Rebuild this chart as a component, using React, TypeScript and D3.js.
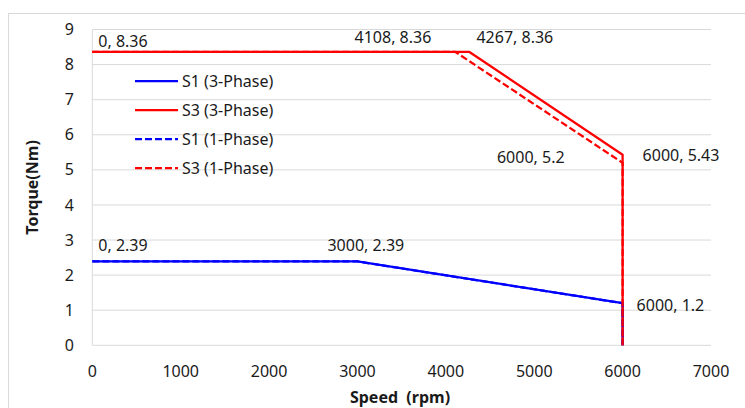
import React from "react";
import * as d3 from "d3";

// Torque–speed envelopes (speed in rpm, torque in Nm)
const s1ThreePhaseSpeed = [0, 3000, 6000, 6000];
const s1ThreePhaseTorque = [2.39, 2.39, 1.2, 0];
const s3ThreePhaseSpeed = [0, 4267, 6000, 6000];
const s3ThreePhaseTorque = [8.36, 8.36, 5.43, 0];
const s1OnePhaseSpeed = [0, 3000, 6000, 6000];
const s1OnePhaseTorque = [2.39, 2.39, 1.2, 0];
const s3OnePhaseSpeed = [0, 4108, 6000, 6000];
const s3OnePhaseTorque = [8.36, 8.36, 5.2, 0];

const seriesNames = ["S1 (3-Phase)", "S3 (3-Phase)", "S1 (1-Phase)", "S3 (1-Phase)"];

const xTicks = [0, 1000, 2000, 3000, 4000, 5000, 6000, 7000];
const yTicks = [0, 1, 2, 3, 4, 5, 6, 7, 8, 9];

// Annotated corner points
const labelSpeed = [0, 4108, 4267, 6000, 6000, 0, 3000, 6000];
const labelTorque = [8.36, 8.36, 8.36, 5.2, 5.43, 2.39, 2.39, 1.2];
const labelText = ["0, 8.36", "4108, 8.36", "4267, 8.36", "6000, 5.2", "6000, 5.43", "0, 2.39", "3000, 2.39", "6000, 1.2"];

// Placement of each annotation relative to its point: [dx, dy, anchor]
const labelPlacement: [number, number, string][] = [
  [6, -5, "start"],
  [-24, -9, "end"],
  [7, -9, "start"],
  [-58, 0, "end"],
  [20, 6, "start"],
  [6, -10, "start"],
  [-30, -10, "start"],
  [14, 8, "start"],
];

const W = 745;
const H = 408;
const FONT = "'Noto Sans', 'Open Sans', sans-serif";

export default function App() {
  const x = d3.scaleLinear().domain([0, 7000]).range([92.3, 711]);
  const y = d3.scaleLinear().domain([0, 9]).range([345.3, 29.5]);

  const series = [
    { name: seriesNames[0], xs: s1ThreePhaseSpeed, ys: s1ThreePhaseTorque, color: "#0000ff", dash: undefined },
    { name: seriesNames[1], xs: s3ThreePhaseSpeed, ys: s3ThreePhaseTorque, color: "#ff0000", dash: undefined },
    { name: seriesNames[2], xs: s1OnePhaseSpeed, ys: s1OnePhaseTorque, color: "#0000ff", dash: "7,3" },
    { name: seriesNames[3], xs: s3OnePhaseSpeed, ys: s3OnePhaseTorque, color: "#ff0000", dash: "7,3" },
  ];

  const line = d3
    .line<[number, number]>()
    .x((d) => x(d[0]))
    .y((d) => y(d[1]));

  return (
    <div style={{ position: "fixed", left: 0, top: 0 }}>
      <svg width={W} height={H} style={{ display: "block", background: "#fff" }} fontFamily={FONT}>
        <rect x={8.5} y={13.5} width={W} height={H} fill="#fff" stroke="#d9d9d9" strokeWidth={1} />

        {/* horizontal gridlines */}
        {yTicks.map((t) => (
          <line key={"g" + t} x1={x(0)} x2={x(7000)} y1={y(t)} y2={y(t)} stroke="#d9d9d9" strokeWidth={1} />
        ))}
        {/* y axis line */}
        <line x1={x(0)} x2={x(0)} y1={y(0)} y2={y(9)} stroke="#d9d9d9" strokeWidth={1} />

        {/* tick labels */}
        {yTicks.map((t) => (
          <text key={"yt" + t} x={74} y={y(t)} dy="0.35em" textAnchor="end" fontSize={16} fill="#1a1a1a">
            {t}
          </text>
        ))}
        {xTicks.map((t) => (
          <text key={"xt" + t} x={x(t)} y={377} textAnchor="middle" fontSize={16} fill="#1a1a1a">
            {t}
          </text>
        ))}

        {/* axis titles */}
        <text
          transform={`translate(38,${y(4.5)}) rotate(-90)`}
          textAnchor="middle"
          fontSize={16}
          fontWeight="bold"
          fill="#1a1a1a"
        >
          Torque(Nm)
        </text>
        <text x={400} y={403} textAnchor="middle" fontSize={16} fontWeight="bold" fill="#1a1a1a">
          {"Speed\u00a0 (rpm)"}
        </text>

        {/* series lines */}
        {series.map((s) => (
          <path
            key={s.name}
            d={line(s.xs.map((v, i) => [v, s.ys[i]] as [number, number])) || ""}
            fill="none"
            stroke={s.color}
            strokeWidth={2.25}
            strokeDasharray={s.dash}
            strokeLinejoin="round"
          />
        ))}

        {/* point annotations */}
        {labelText.map((t, i) => {
          const [dx, dy] = labelPlacement[i];
          const anchor = labelPlacement[i][2];
          return (
            <text
              key={"l" + i}
              x={x(labelSpeed[i]) + dx}
              y={y(labelTorque[i]) + dy}
              textAnchor={anchor}
              fontSize={16}
              fill="#1a1a1a"
            >
              {t}
            </text>
          );
        })}

        {/* legend */}
        {series.map((s, i) => {
          const cy = 81 + i * 29;
          return (
            <g key={"lg" + i}>
              <line x1={135} x2={178} y1={cy} y2={cy} stroke={s.color} strokeWidth={2.25} strokeDasharray={s.dash} />
              <text x={182} y={cy} dy="0.35em" fontSize={16} fill="#1a1a1a">
                {s.name}
              </text>
            </g>
          );
        })}
      </svg>
    </div>
  );
}
